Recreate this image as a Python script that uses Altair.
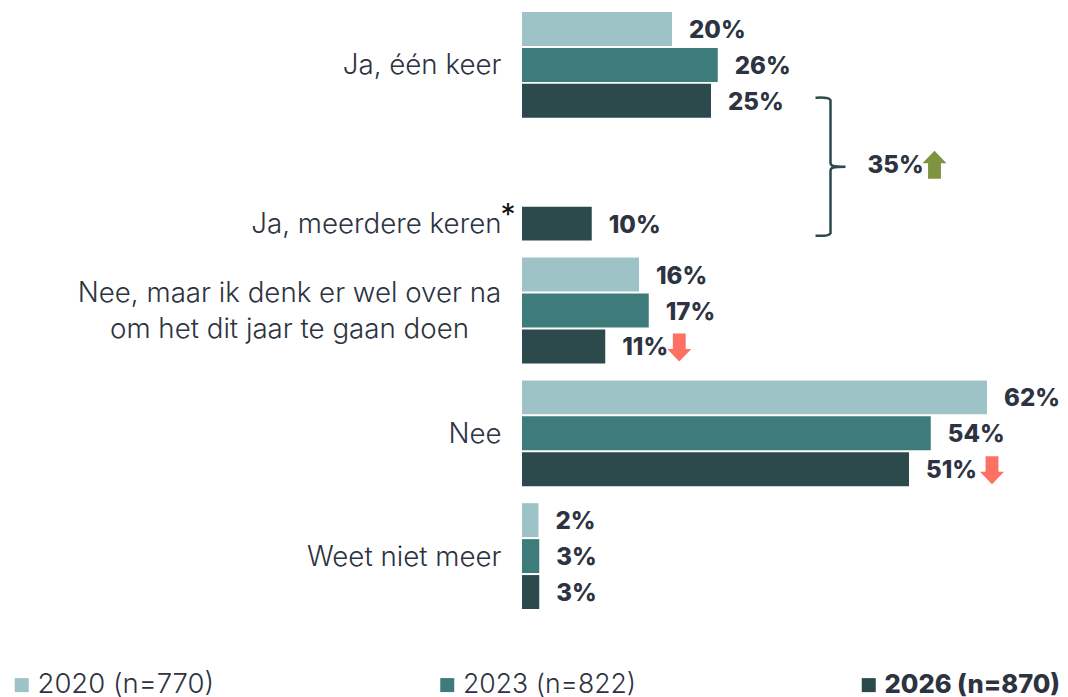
import altair as alt
import pandas as pd

categories = ["Ja, één keer", "Ja, meerdere keren", "Nee, maar ik denk er wel over na|om het dit jaar te gaan doen", "Nee", "Weet niet meer"]
years = ["2020 (n=770)", "2023 (n=822)", "2026 (n=870)"]
colors = ["#9DC3C7", "#3E7C7C", "#2C494C"]
cats_per_year = {
    years[0]: [categories[0], categories[2], categories[3], categories[4]],
    years[1]: [categories[0], categories[2], categories[3], categories[4]],
    years[2]: categories,
}
bar_values = {
    years[0]: [20.0, 15.6, 62.0, 2.2],
    years[1]: [26.1, 16.9, 54.5, 2.3],
    years[2]: [25.2, 9.3, 11.1, 51.6, 2.3],
}
shown = {
    years[0]: ["20%", "16%", "62%", "2%"],
    years[1]: ["26%", "17%", "54%", "3%"],
    years[2]: ["25%", "10%", "11%", "51%", "3%"],
}

rows = []
for yr in years:
    for c, v, s in zip(cats_per_year[yr], bar_values[yr], shown[yr]):
        rows.append({"cat": c, "year": yr, "value": v, "label": s})
df = pd.DataFrame(rows)

label_rows = pd.DataFrame([
    {"cat": categories[0], "year": years[1], "text": categories[0]},
    {"cat": categories[1], "year": years[2], "text": categories[1]},
    {"cat": categories[3], "year": years[1], "text": categories[3]},
    {"cat": categories[4], "year": years[1], "text": categories[4]},
])
multi_row = pd.DataFrame([{"cat": categories[2], "year": years[1], "text": categories[2]}])
star_row = pd.DataFrame([{"cat": categories[1], "year": years[2], "text": "*"}])
total_row = pd.DataFrame([{"cat": categories[1], "year": years[0], "value": 35, "label": "35%"}])
down_a = pd.DataFrame([{"cat": categories[2], "year": years[2], "value": 11.1}])
down_b = pd.DataFrame([{"cat": categories[3], "year": years[2], "value": 51.6}])

FONT = "Inter"
INK = "#2D3341"
UP = "M0,-1 L0.86,-0.11 L0.46,-0.11 L0.46,1 L-0.46,1 L-0.46,-0.11 L-0.86,-0.11 Z"
DOWN = "M0,1 L0.86,0.11 L0.46,0.11 L0.46,-1 L-0.46,-1 L-0.46,0.11 L-0.86,0.11 Z"
BRACE = ("M-0.214,-0.986 C-0.17,-0.986 -0.02,-1 0,-0.95 L0,-0.06 C0,-0.01 0.03,0 0.214,0 "
         "C0.03,0 0,0.01 0,0.06 L0,0.95 C-0.02,1 -0.17,0.986 -0.214,0.986")

y_enc = alt.Y("cat:N", axis=None,
              scale=alt.Scale(domain=categories, range=[0, 605],
                              paddingInner=15 / 123, paddingOuter=3 / 123))
yo_enc = alt.YOffset("year:N",
                     scale=alt.Scale(domain=years, paddingInner=2 / 36, paddingOuter=1 / 36))
x_scale = alt.Scale(domain=[0, 70], range=[514, 1039])
x_enc = alt.X("value:Q", axis=None, scale=x_scale)

bars = alt.Chart(df).mark_bar().encode(
    x=x_enc, y=y_enc, yOffset=yo_enc,
    color=alt.Color("year:N", scale=alt.Scale(domain=years, range=colors),
                    legend=alt.Legend(orient="none", legendX=0, legendY=663, columns=3,
                                      title=None, direction="horizontal",
                                      columnPadding=218.5, symbolType="square",
                                      symbolSize=196, symbolStrokeWidth=0,
                                      symbolOffset=0, labelOffset=2,
                                      labelFont=FONT,
                                      labelFontSize=alt.expr("datum.label == '2026 (n=870)' ? 25.5 : datum.label == '2023 (n=822)' ? 26.6 : 27.5"),
                                      labelColor=INK, labelLimit=400, padding=0,
                                      labelFontWeight=alt.expr("datum.label == '2026 (n=870)' ? 800 : 300"))),
)
value_labels = alt.Chart(df).mark_text(
    align="left", baseline="middle", dx=17, dy=2, font=FONT, fontSize=24, fontWeight=800, color=INK
).encode(x=x_enc, y=y_enc, yOffset=yo_enc, text="label:N")

cat_labels = alt.Chart(label_rows).mark_text(
    align="right", baseline="middle", dy=1.5, font=FONT, fontSize=27.7, fontWeight=300, color=INK
).encode(x=alt.value(493.5), y=y_enc, yOffset=yo_enc, text="text:N")
multi_label = alt.Chart(multi_row).mark_text(
    align="center", baseline="middle", dy=-17, font=FONT, fontSize=27.7, fontWeight=300, color=INK,
    lineBreak="|", lineHeight=36
).encode(x=alt.value(281.5), y=y_enc, yOffset=yo_enc, text="text:N")
star = alt.Chart(star_row).mark_text(
    align="center", baseline="middle", dy=-8, font=FONT, fontSize=30, color="#111111"
).encode(x=alt.value(500), y=y_enc, yOffset=yo_enc, text="text:N")

total_label = alt.Chart(total_row).mark_text(
    align="left", baseline="middle", dx=83, dy=14, font=FONT, fontSize=24, fontWeight=800, color=INK
).encode(x=x_enc, y=y_enc, yOffset=yo_enc, text="label:N")
y_group = alt.Y("cat:N", axis=None,
                scale=alt.Scale(domain=categories, range=[0, 605],
                                paddingInner=15 / 123, paddingOuter=3 / 123))
up_arrow = alt.Chart(total_row).mark_point(
    shape=UP, size=784, filled=True, opacity=1, color="#7F9440", xOffset=150, yOffset=-23
).encode(x=x_enc, y=y_group)
brace = alt.Chart(total_row).mark_point(
    shape=BRACE, size=19600, filled=False, opacity=1, stroke="#2C494C", strokeWidth=2.5,
    xOffset=46, yOffset=-21
).encode(x=x_enc, y=y_group)
arrow_a = alt.Chart(down_a).mark_point(
    shape=DOWN, size=784, filled=True, opacity=1, color="#FC7162", xOffset=74, yOffset=37
).encode(x=x_enc, y=y_group)
arrow_b = alt.Chart(down_b).mark_point(
    shape=DOWN, size=784, filled=True, opacity=1, color="#FC7162", xOffset=83, yOffset=37
).encode(x=x_enc, y=y_group)

chart = alt.layer(
    bars, value_labels, cat_labels, multi_label, star, total_label, up_arrow, brace, arrow_a, arrow_b
).properties(
    width=1052, height=689, padding=0, autosize=alt.AutoSizeParams(type="none")
).configure_view(stroke=None)

chart.save("out.html", embed_options={"renderer": "svg", "actions": False})
